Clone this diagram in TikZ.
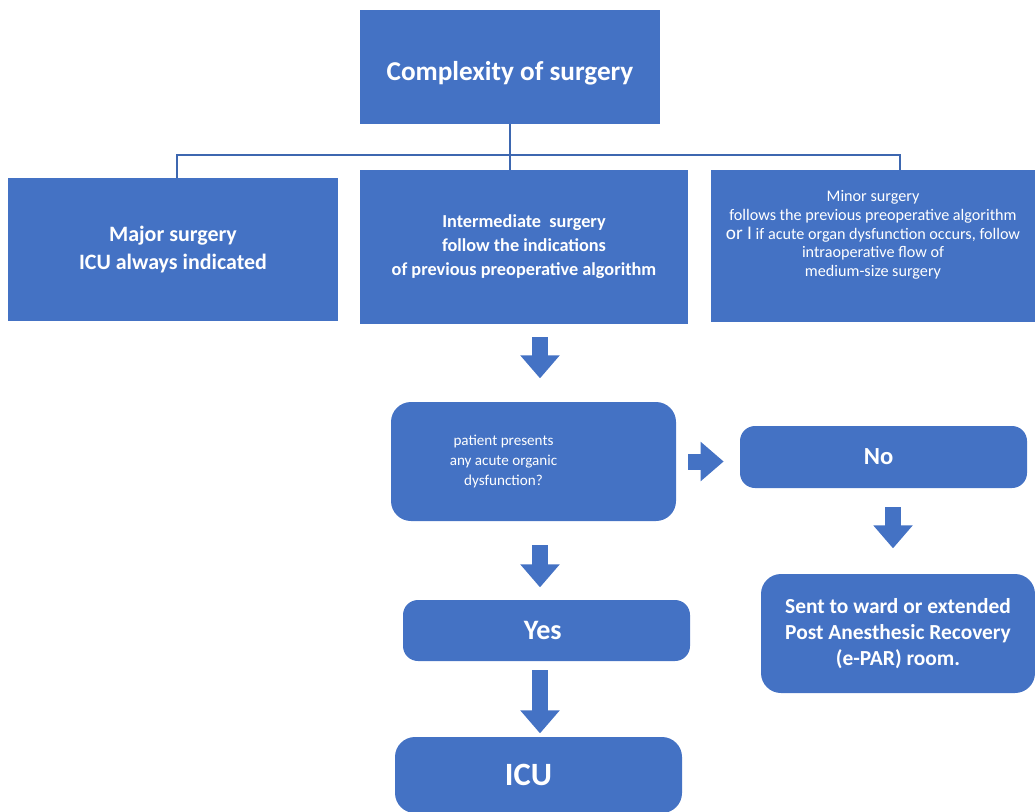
\documentclass[tikz,border=0pt]{standalone}
\usepackage{fontspec}
\setmainfont{Carlito}
\usepackage{tikz}
\usetikzlibrary{arrows.meta,calc}
\definecolor{officeblue}{HTML}{4472C4}
\colorlet{boxcol}{officeblue}
\colorlet{linkcol}{officeblue!90!black}
\tikzstyle{box}=[fill=boxcol,draw=none,text=white,align=center,inner sep=2pt]
\tikzstyle{round box}=[box,rounded corners=0.4cm]
\tikzstyle{link}=[linkcol,line width=1.3pt]
\tikzstyle{fat arrow}=[boxcol,line width=0.32cm,-{Triangle[width=0.76cm,length=0.46cm]}]

\begin{document}
\begin{tikzpicture}
  \useasboundingbox (0,0) rectangle (20.7,-16.22);
  \node[box,minimum width=6cm,minimum height=2.28cm,text height=0.64cm,text depth=0.1cm,
    font=\bfseries\fontsize{15.5}{18}\selectfont]
    (complexity) at (10.2,-1.34) {Complexity of surgery};
  \node[box,minimum width=6.6cm,minimum height=2.86cm,font=\bfseries\fontsize{12.5}{15.5}\selectfont]
    (major) at (3.46,-4.99) {Major surgery\\ICU always indicated};
  \node[box,minimum width=6.56cm,minimum height=3.08cm,font=\bfseries\fontsize{10.4}{13.6}\selectfont]
    (inter) at (10.48,-4.94) {Intermediate~ surgery\\follow the indications\\of previous preoperative algorithm};
  \node[box,minimum width=6.48cm,minimum height=3.04cm,font=\fontsize{9.2}{10.6}\selectfont]
    (minor) at (17.46,-4.92) {Minor surgery\\follows the previous preoperative algorithm\\
      {\fontsize{11}{10.6}\selectfont or I} if acute organ dysfunction occurs, follow\\
      intraoperative flow of\\medium-size surgery\\[0.12cm]};
  \node[round box,minimum width=5.7cm,minimum height=2.38cm,font=\fontsize{8.6}{11.3}\selectfont]
    (organic) at (10.67,-9.23)
    {\begin{tabular}{@{}c@{}}patient presents\\any acute organic\\dysfunction?\end{tabular}\hspace*{1.2cm}};
  \node[round box,rounded corners=0.3cm,minimum width=5.74cm,minimum height=1.24cm,font=\bfseries\fontsize{14}{17}\selectfont]
    (no) at (17.67,-9.14) {No\hspace*{0.2cm}};
  \node[round box,minimum width=5.48cm,minimum height=2.38cm,font=\bfseries\fontsize{12.2}{14.8}\selectfont]
    (ward) at (17.96,-12.67) {Sent to ward or extended\\Post Anesthesic Recovery\\(e-PAR) room.};
  \node[round box,rounded corners=0.3cm,minimum width=5.74cm,minimum height=1.22cm,font=\bfseries\fontsize{16}{19}\selectfont]
    (yes) at (10.93,-12.61) {Yes\hspace*{0.15cm}};
  \node[round box,minimum width=5.74cm,minimum height=1.52cm,font=\bfseries\fontsize{18.5}{21}\selectfont]
    (icu) at (10.77,-15.5) {ICU\hspace*{0.4cm}};

  \draw[link] (complexity.south) -- (complexity.south |- inter.north);
  \coordinate (bar) at ($(complexity.south)+(0,-0.62)$);
  \draw[link] ($(major.north)+(0.08,0)$) |- (bar) -| ($(minor.north)+(0.54,0)$);

  \draw[fat arrow,shorten <=0.26cm,shorten >=0.48cm] ($(inter.south)+(0.32,0)$) -- ($(inter.south)+(0.32,-1.56)$);
  \draw[fat arrow,shorten <=0.24cm,shorten >=0.32cm] (organic.east) -- (organic.east -| no.west);
  \draw[fat arrow,shorten <=0.38cm,shorten >=0.52cm] ($(no.south)+(0.19,0)$) -- ($(no.south)+(0.19,-1.72)$);
  \draw[fat arrow,shorten <=0.48cm,shorten >=0.26cm] ($(organic.south)+(0.13,0)$) -- ($(organic.south)+(0.13,-1.58)$);
  \draw[fat arrow,shorten <=0.18cm,shorten >=0.08cm] ($(yes.south)+(-0.13,0)$) -- ($(yes.south)+(-0.13,-1.52)$);
\end{tikzpicture}
\end{document}
